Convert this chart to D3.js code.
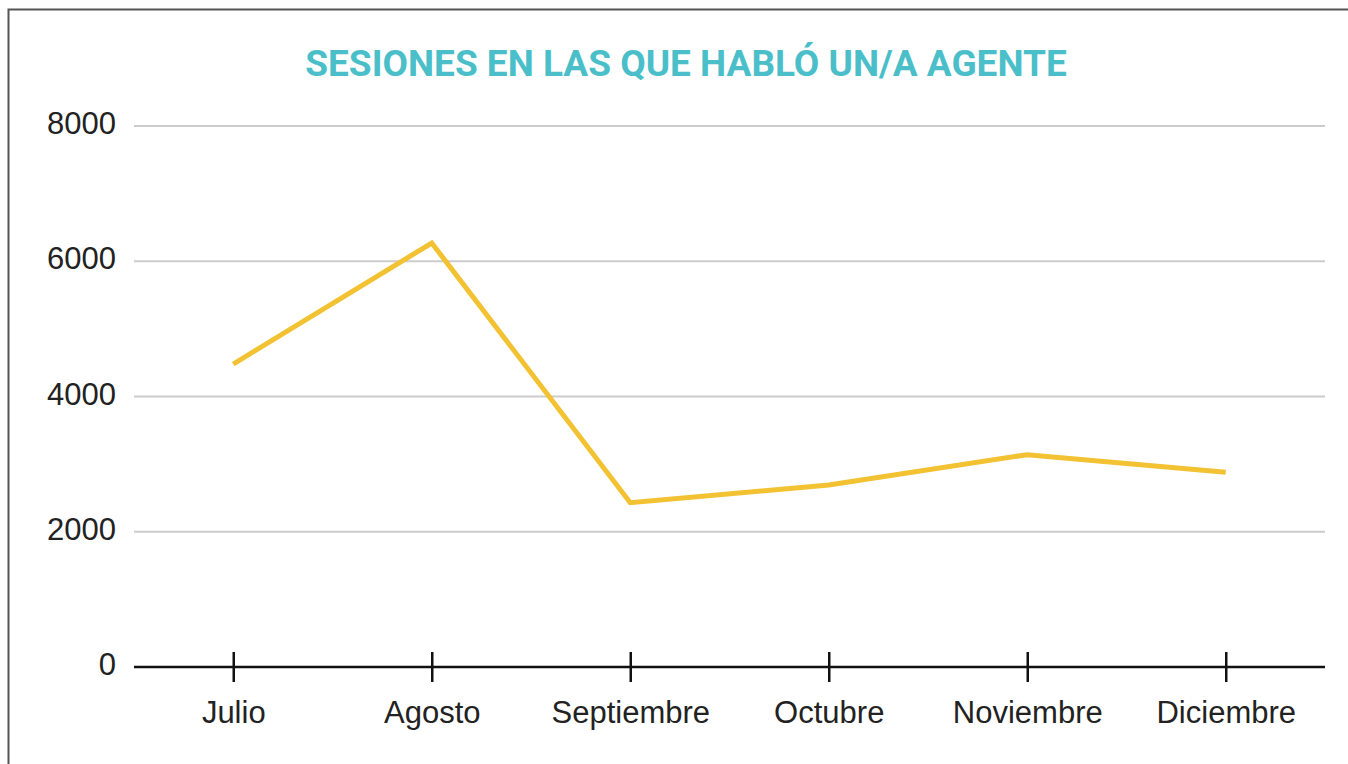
<!DOCTYPE html>
<html>
<head>
<meta charset="utf-8">
<script src="https://d3js.org/d3.v7.min.js"></script>
<style>
body { margin: 0; background: #fff; }
.chart { font-family: 'Liberation Sans', Arial, sans-serif; }
.grid line { stroke: #cccccc; stroke-width: 2px; }
.title { font-family: Roboto, sans-serif; font-weight: bold; fill: #4bbfc9; }
</style>
</head>
<body>
<div class="chart"></div>
<script>
// data
const months = ["Julio", "Agosto", "Septiembre", "Octubre", "Noviembre", "Diciembre"];
const sessions = [4480, 6270, 2430, 2690, 3140, 2880];
const yTicks = [0, 2000, 4000, 6000, 8000];
const chartTitle = "SESIONES EN LAS QUE HABLÓ UN/A AGENTE";

function buildChart(id, width, height) {
    const left = 134, right = 1325, top = 126, bottom = 667;

    const svg = d3.select(id).append("svg")
        .attr("width", width)
        .attr("height", height);

    // outer frame
    svg.append("rect")
        .attr("x", 8.5).attr("y", 9.5)
        .attr("width", width + 20).attr("height", height + 20)
        .attr("fill", "#fff")
        .attr("stroke", "#555").attr("stroke-width", 2);

    const x = d3.scalePoint().domain(months).range([left, right]).padding(0.5);
    const y = d3.scaleLinear().domain([0, 8000]).range([bottom, top]);

    // horizontal gridlines
    svg.append("g").attr("class", "grid")
        .selectAll("line")
        .data(yTicks.filter(d => d > 0))
        .enter().append("line")
        .attr("x1", left).attr("x2", right)
        .attr("y1", d => y(d)).attr("y2", d => y(d));

    // y labels
    svg.append("g")
        .selectAll("text")
        .data(yTicks)
        .enter().append("text")
        .attr("x", left - 18)
        .attr("y", d => y(d) - 3)
        .attr("dy", "0.36em")
        .attr("text-anchor", "end")
        .style("font-size", "31px")
        .style("fill", "#222")
        .text(d => d);

    // x axis
    const xAxis = svg.append("g")
        .attr("transform", "translate(0," + bottom + ")")
        .call(d3.axisBottom(x).tickSize(0).tickSizeOuter(0).tickPadding(0));
    xAxis.select(".domain").remove();
    xAxis.append("line")
        .attr("x1", left).attr("x2", right)
        .attr("stroke", "#111").attr("stroke-width", 2.5);
    xAxis.selectAll(".tick line")
        .attr("y1", -15).attr("y2", 15)
        .attr("stroke", "#111").attr("stroke-width", 2.5);
    xAxis.selectAll(".tick text")
        .attr("y", 56)
        .attr("dy", 0)
        .style("font-family", "'Liberation Sans', Arial, sans-serif")
        .style("font-size", "31px")
        .style("fill", "#222");

    // line
    const line = d3.line()
        .x((d, i) => x(months[i]))
        .y(d => y(d));
    svg.append("path")
        .datum(sessions)
        .attr("d", line)
        .attr("fill", "none")
        .attr("stroke", "#f2c232")
        .attr("stroke-width", 5)
        .attr("stroke-linejoin", "miter");

    // title
    svg.append("text")
        .attr("class", "title")
        .attr("x", 686)
        .attr("y", 76)
        .attr("text-anchor", "middle")
        .style("font-size", "37px")
        .text(chartTitle);
}

buildChart(".chart", 1348, 764);
</script>
</body>
</html>
